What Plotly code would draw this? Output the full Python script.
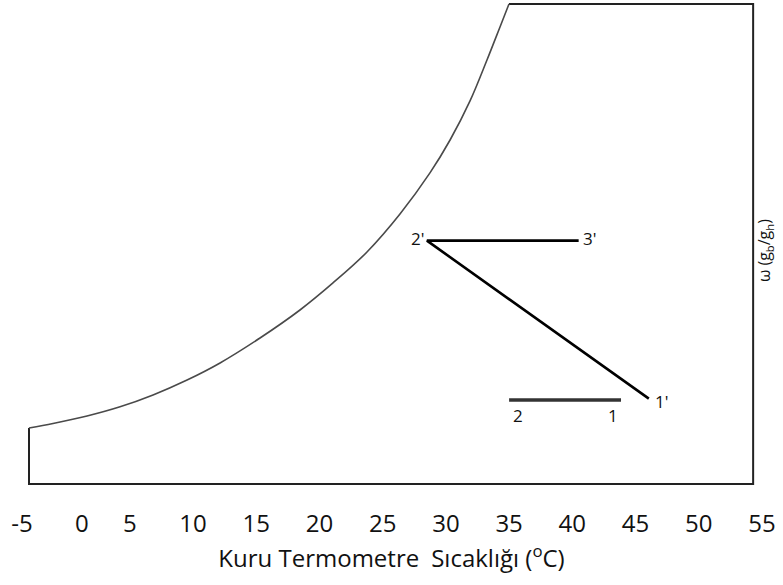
import plotly.graph_objects as go

# Saturation curve: dry-bulb temperature (°C) vs humidity ratio ω (g_b/g_h)
sat_temp = [-2.97, -1.07, 1.62, 4.23, 6.84, 9.53, 12.14, 15.30, 18.46, 21.07,
            23.76, 26.37, 28.74, 30.33, 31.91, 33.25, 34.28, 34.99]
sat_omega = [0.0042, 0.00454, 0.0051, 0.00579, 0.00668, 0.0078, 0.00908, 0.01095,
             0.01305, 0.01508, 0.0174, 0.02025, 0.02333, 0.0258, 0.02873, 0.0318,
             0.03428, 0.0360]

# Chart frame limits
t_min, t_max = -2.97, 54.3
omega_top = 0.0360

# Process states
state_names = ["1", "2", "1'", "2'", "3'"]
state_temp = [43.85, 35.0, 46.05, 28.5, 40.5]
state_omega = [0.0063, 0.0063, 0.0064, 0.01825, 0.01825]

# X-axis tick labels and their positions
tick_text = ["-5", "0", "5", "10", "15", "20", "25", "30", "35", "40", "45", "50", "55"]
tick_pos = [-3.52, 1.22, 5, 10, 15, 20, 25, 30, 35, 40, 45, 50, 55]

S = dict(zip(state_names, zip(state_temp, state_omega)))
FONT = "Open Sans"

fig = go.Figure()

# outer frame (left, bottom, right, top)
fig.add_trace(go.Scatter(
    x=[sat_temp[0], t_min, t_max, t_max, sat_temp[-1]],
    y=[sat_omega[0], 0, 0, omega_top, omega_top],
    mode="lines", line=dict(color="#222222", width=2), hoverinfo="skip"))

# saturation curve
fig.add_trace(go.Scatter(
    x=sat_temp, y=sat_omega, mode="lines",
    line=dict(color="#4a4a4a", width=1.6, shape="spline", smoothing=1.0),
    hoverinfo="skip"))

# sensible process 2 - 1
fig.add_trace(go.Scatter(
    x=[S["2"][0], S["1"][0]], y=[S["2"][1], S["1"][1]],
    mode="lines", line=dict(color="#333333", width=3.5), hoverinfo="skip"))

# 1' -> 2' -> 3'
fig.add_trace(go.Scatter(
    x=[S["1'"][0], S["2'"][0], S["3'"][0]],
    y=[S["1'"][1], S["2'"][1], S["3'"][1]],
    mode="lines", line=dict(color="#000000", width=2.6), hoverinfo="skip"))

label_cfg = {
    "1": dict(xanchor="center", yanchor="top", xshift=-8, yshift=-2),
    "2": dict(xanchor="center", yanchor="top", xshift=9, yshift=-2),
    "1'": dict(xanchor="left", yanchor="middle", xshift=4, yshift=-3),
    "2'": dict(xanchor="right", yanchor="middle", xshift=-1, yshift=2),
    "3'": dict(xanchor="left", yanchor="middle", xshift=2, yshift=2),
}
for name in state_names:
    fig.add_annotation(x=S[name][0], y=S[name][1], text=name, showarrow=False,
                       font=dict(family=FONT, size=17, color="#111111"),
                       **label_cfg[name])

# right-side axis label
fig.add_annotation(xref="paper", yref="paper", x=1.003, y=0.488,
                   text="ω (g<sub>b</sub>/g<sub>h</sub>)", textangle=-90,
                   showarrow=False, xanchor="center", yanchor="middle",
                   font=dict(family=FONT, size=16, color="#111111"))

fig.update_layout(
    width=783, height=585, autosize=False,
    margin=dict(l=20, r=20, t=0, b=95),
    paper_bgcolor="white", plot_bgcolor="white",
    showlegend=False,
    xaxis=dict(range=[-3.682, 55.08], showgrid=False, zeroline=False,
               showline=False, tickmode="array", tickvals=tick_pos,
               ticktext=tick_text, ticks="", ticklabelstandoff=17,
               tickfont=dict(family=FONT, size=24, color="#111111"),
               title=dict(text="Kuru Termometre\u2002Sıcaklığı (<sup>o</sup>C)",
                          font=dict(family=FONT, size=24, color="#111111"),
                          standoff=10),
               automargin=False, fixedrange=True),
    yaxis=dict(range=[-0.00045, 0.0363], showgrid=False, zeroline=False,
               showline=False, showticklabels=False, ticks="",
               automargin=False, fixedrange=True),
)

fig.write_html("out.html")
